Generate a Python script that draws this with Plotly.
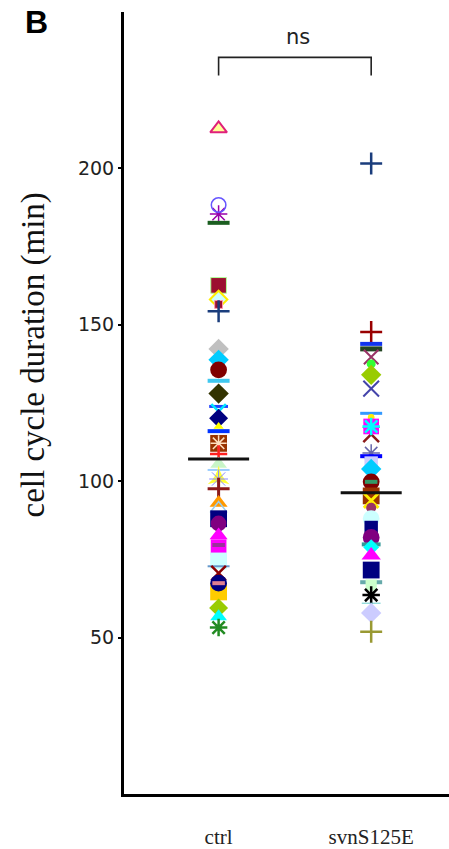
import plotly.graph_objects as go

# ---- data -------------------------------------------------------------
groups = ["ctrl", "svnS125E"]

# cell cycle duration of individual cells (min)
ctrl_minutes = [212.7, 185.4, 188.3, 182.6, 162.6, 158.1, 156.5, 154.3,
                142.3, 138.8, 135.6, 132.1, 128.0, 123.9, 122.3, 120.1,
                117.5, 116.0, 112.1, 112.1, 108.7, 105.5, 103.6, 101.0,
                100.7, 97.6, 93.1, 91.2, 88.0, 86.5, 82.7, 78.9, 79.6,
                74.5, 72.8, 70.6, 64.6, 67.4, 67.4, 59.5, 56.7, 53.2]

svn_minutes = [201.6, 147.7, 143.9, 142.3, 139.7, 137.5, 134.0, 129.6,
               121.7, 120.4, 115.0, 117.5, 117.5, 109.0, 108.0, 105.8,
               103.9, 99.8, 99.8, 95.3, 93.8, 91.5, 88.0, 85.2, 82.0,
               79.8, 78.9, 76.3, 71.6, 67.7, 66.8, 63.6, 61.0, 57.9, 51.9]

group_means = [107.1, 96.3]
bracket_label = "ns"

# ---- marker styles: (symbol, fill, outline, outline width, size) ----
ctrl_styles = [
    ("triangle-up", "#ffff99", "#e0207a", 2, 13),
    ("asterisk-open", "#9900aa", "#9900aa", 1.5, 13),
    ("circle-open", "#6655ff", "#6655ff", 1.5, 13),
    ("line-ew", "#1b5e20", "#1b5e20", 4, 14),
    ("square", "#9b1030", "#b2ff99", 1, 14),
    ("diamond", "#ccffff", "#ffee00", 2, 12),
    ("square", "#9b1030", "#ff99aa", 1, 7),
    ("cross-thin", "#1a3d7c", "#1a3d7c", 2.5, 14),
    ("diamond", "#c0c0c0", "#c0c0c0", 0, 14),
    ("diamond", "#00ccff", "#00ccff", 0, 14),
    ("circle", "#800000", "#800000", 0, 15),
    ("line-ew", "#40c8f0", "#40c8f0", 4, 14),
    ("diamond", "#333300", "#333300", 0, 14),
    ("line-ew", "#2244ff", "#2244ff", 3, 12),
    ("x-thin", "#00e5ff", "#00e5ff", 2.5, 13),
    ("diamond", "#000080", "#000080", 0, 13),
    ("triangle-up", "#ffff00", "#ffff00", 0, 8),
    ("line-ew", "#0033ff", "#0033ff", 4, 14),
    ("square", "#993300", "#993300", 0, 15),
    ("asterisk", "#ffe0c0", "#ffe0c0", 1.5, 12),
    ("cross-thin", "#ff2020", "#ff2020", 2.5, 11),
    ("triangle-up", "#c8f5c8", "#c8f5c8", 0, 13),
    ("line-ew", "#99ccff", "#99ccff", 2, 14),
    ("star-triangle-up", "#ffff33", "#ffff33", 0, 14),
    ("asterisk", "#8888ff", "#8888ff", 1, 14),
    ("cross-thin", "#8b1a1a", "#8b1a1a", 3, 14),
    ("triangle-up", "#ff9900", "#ff9900", 0, 14),
    ("triangle-up-open", "#99ccee", "#99ccee", 1.5, 13),
    ("square", "#000080", "#000080", 0, 15),
    ("circle", "#800080", "#800080", 0, 14),
    ("triangle-up", "#ff00ff", "#ff00ff", 0, 14),
    ("square", "#ff00ff", "#ff00ff", 0, 14),
    ("line-ew", "#993399", "#993399", 4, 8),
    ("square", "#ccffff", "#ccffff", 0, 15),
    ("line-ew", "#6699cc", "#6699cc", 2, 14),
    ("x-thin", "#8b0000", "#8b0000", 2.5, 13),
    ("square", "#ffcc00", "#ffcc00", 0, 15),
    ("circle", "#000080", "#000080", 0, 15),
    ("line-ew", "#e08090", "#e08090", 4, 8),
    ("diamond", "#99cc00", "#99cc00", 0, 13),
    ("triangle-up", "#00ffff", "#00ffff", 0, 13),
    ("asterisk", "#228b22", "#228b22", 2.5, 13),
]

svn_styles = [
    ("cross-thin", "#1a3d7c", "#1a3d7c", 2.5, 14),
    ("cross-thin", "#990000", "#990000", 2.5, 14),
    ("line-ew", "#1133ee", "#1133ee", 4, 14),
    ("line-ew", "#224422", "#224422", 5, 14),
    ("x-thin", "#993366", "#993366", 2, 13),
    ("circle", "#33ff33", "#33ff33", 0, 8),
    ("diamond", "#99cc00", "#99cc00", 0, 14),
    ("x-thin", "#4444aa", "#4444aa", 2, 14),
    ("line-ew", "#3399ff", "#3399ff", 3, 14),
    ("circle", "#ffee00", "#ffee00", 0, 6),
    ("x-thin", "#8b1a1a", "#8b1a1a", 2.5, 14),
    ("square", "#ff00ff", "#ff00ff", 0, 14),
    ("asterisk", "#00ffff", "#00ffff", 2.5, 13),
    ("asterisk", "#6666aa", "#6666aa", 1.5, 13),
    ("line-ew", "#0000ff", "#0000ff", 4, 14),
    ("square", "#ccccff", "#ccccff", 0, 12),
    ("diamond", "#00ccff", "#00ccff", 0, 14),
    ("circle", "#800000", "#800000", 0, 15),
    ("line-ew", "#339966", "#339966", 4, 8),
    ("square", "#993300", "#993300", 0, 15),
    ("x-thin", "#ffee00", "#ffee00", 3, 13),
    ("circle", "#993366", "#993366", 0, 9),
    ("circle", "#ccffff", "#ccffff", 0, 15),
    ("square", "#000080", "#000080", 0, 12),
    ("circle", "#800080", "#800080", 0, 15),
    ("line-ew", "#339999", "#339999", 4, 12),
    ("diamond", "#00ffff", "#00ffff", 0, 11),
    ("triangle-up", "#ff00ff", "#ff00ff", 0, 15),
    ("square", "#000080", "#000080", 0, 15),
    ("line-ew", "#66aaaa", "#66aaaa", 4, 14),
    ("square", "#ccffcc", "#ccffcc", 0, 10),
    ("asterisk", "#000000", "#000000", 2.5, 13),
    ("line-ew", "#66cccc", "#66cccc", 1, 12),
    ("diamond", "#ccccff", "#ccccff", 0, 14),
    ("cross-thin", "#999933", "#999933", 2.5, 14),
]

MARKER_SCALE = 1.12

# ---- figure -----------------------------------------------------------
fig = go.Figure()

for gi, (values, styles) in enumerate([(ctrl_minutes, ctrl_styles),
                                       (svn_minutes, svn_styles)]):
    fig.add_trace(go.Scatter(
        x=[gi] * len(values),
        y=values,
        mode="markers",
        showlegend=False,
        hoverinfo="y",
        marker=dict(
            symbol=[s[0] for s in styles],
            color=[s[1] for s in styles],
            size=[s[4] * MARKER_SCALE for s in styles],
            opacity=1,
            line=dict(color=[s[2] for s in styles],
                      width=[s[3] for s in styles]),
        ),
    ))

# mean bars
for gi, m in enumerate(group_means):
    fig.add_shape(type="line", xref="x", yref="y",
                  x0=gi - 0.2, x1=gi + 0.2, y0=m, y1=m,
                  line=dict(color="#111111", width=3))

# significance bracket
br_top, br_drop = 235.5, 5.8
fig.add_shape(type="path", xref="x", yref="y",
              path=f"M 0 {br_top - br_drop} L 0 {br_top} L 1 {br_top} L 1 {br_top - br_drop}",
              line=dict(color="#222222", width=1.6))
fig.add_annotation(x=0.52, y=br_top + 2, xref="x", yref="y",
                   text=bracket_label, showarrow=False, yanchor="bottom",
                   font=dict(family="DejaVu Sans", size=21, color="#222222"))

# panel letter
fig.add_annotation(x=-0.27, y=0.987, xref="paper", yref="paper",
                   text="<b>B</b>", showarrow=False,
                   xanchor="center", yanchor="middle",
                   font=dict(family="Liberation Sans", size=32, color="#000000"))

# y-axis title
fig.add_annotation(x=-0.277, y=0.562, xref="paper", yref="paper",
                   text="cell cycle duration (min)", showarrow=False,
                   textangle=-90, xanchor="center", yanchor="middle",
                   font=dict(family="Liberation Serif", size=33, color="#111111"))

fig.update_layout(
    width=449, height=849,
    margin=dict(l=124, r=0, t=12, b=48),
    paper_bgcolor="white", plot_bgcolor="white",
    xaxis=dict(
        range=[-0.62, 1.51],
        tickvals=list(range(len(groups))), ticktext=groups,
        showgrid=False, zeroline=False,
        showline=True, linecolor="#000000", linewidth=3,
        ticks="", ticklabelstandoff=22,
        tickfont=dict(family="Liberation Serif", size=21, color="#222222"),
    ),
    yaxis=dict(
        range=[0, 250],
        tickvals=[50, 100, 150, 200],
        showgrid=False, zeroline=False,
        showline=True, linecolor="#000000", linewidth=3,
        ticks="outside", ticklen=3, tickwidth=1.5, tickcolor="#000000",
        tickfont=dict(family="DejaVu Sans", size=19, color="#222222"),
    ),
)

fig.write_html("out.html")
